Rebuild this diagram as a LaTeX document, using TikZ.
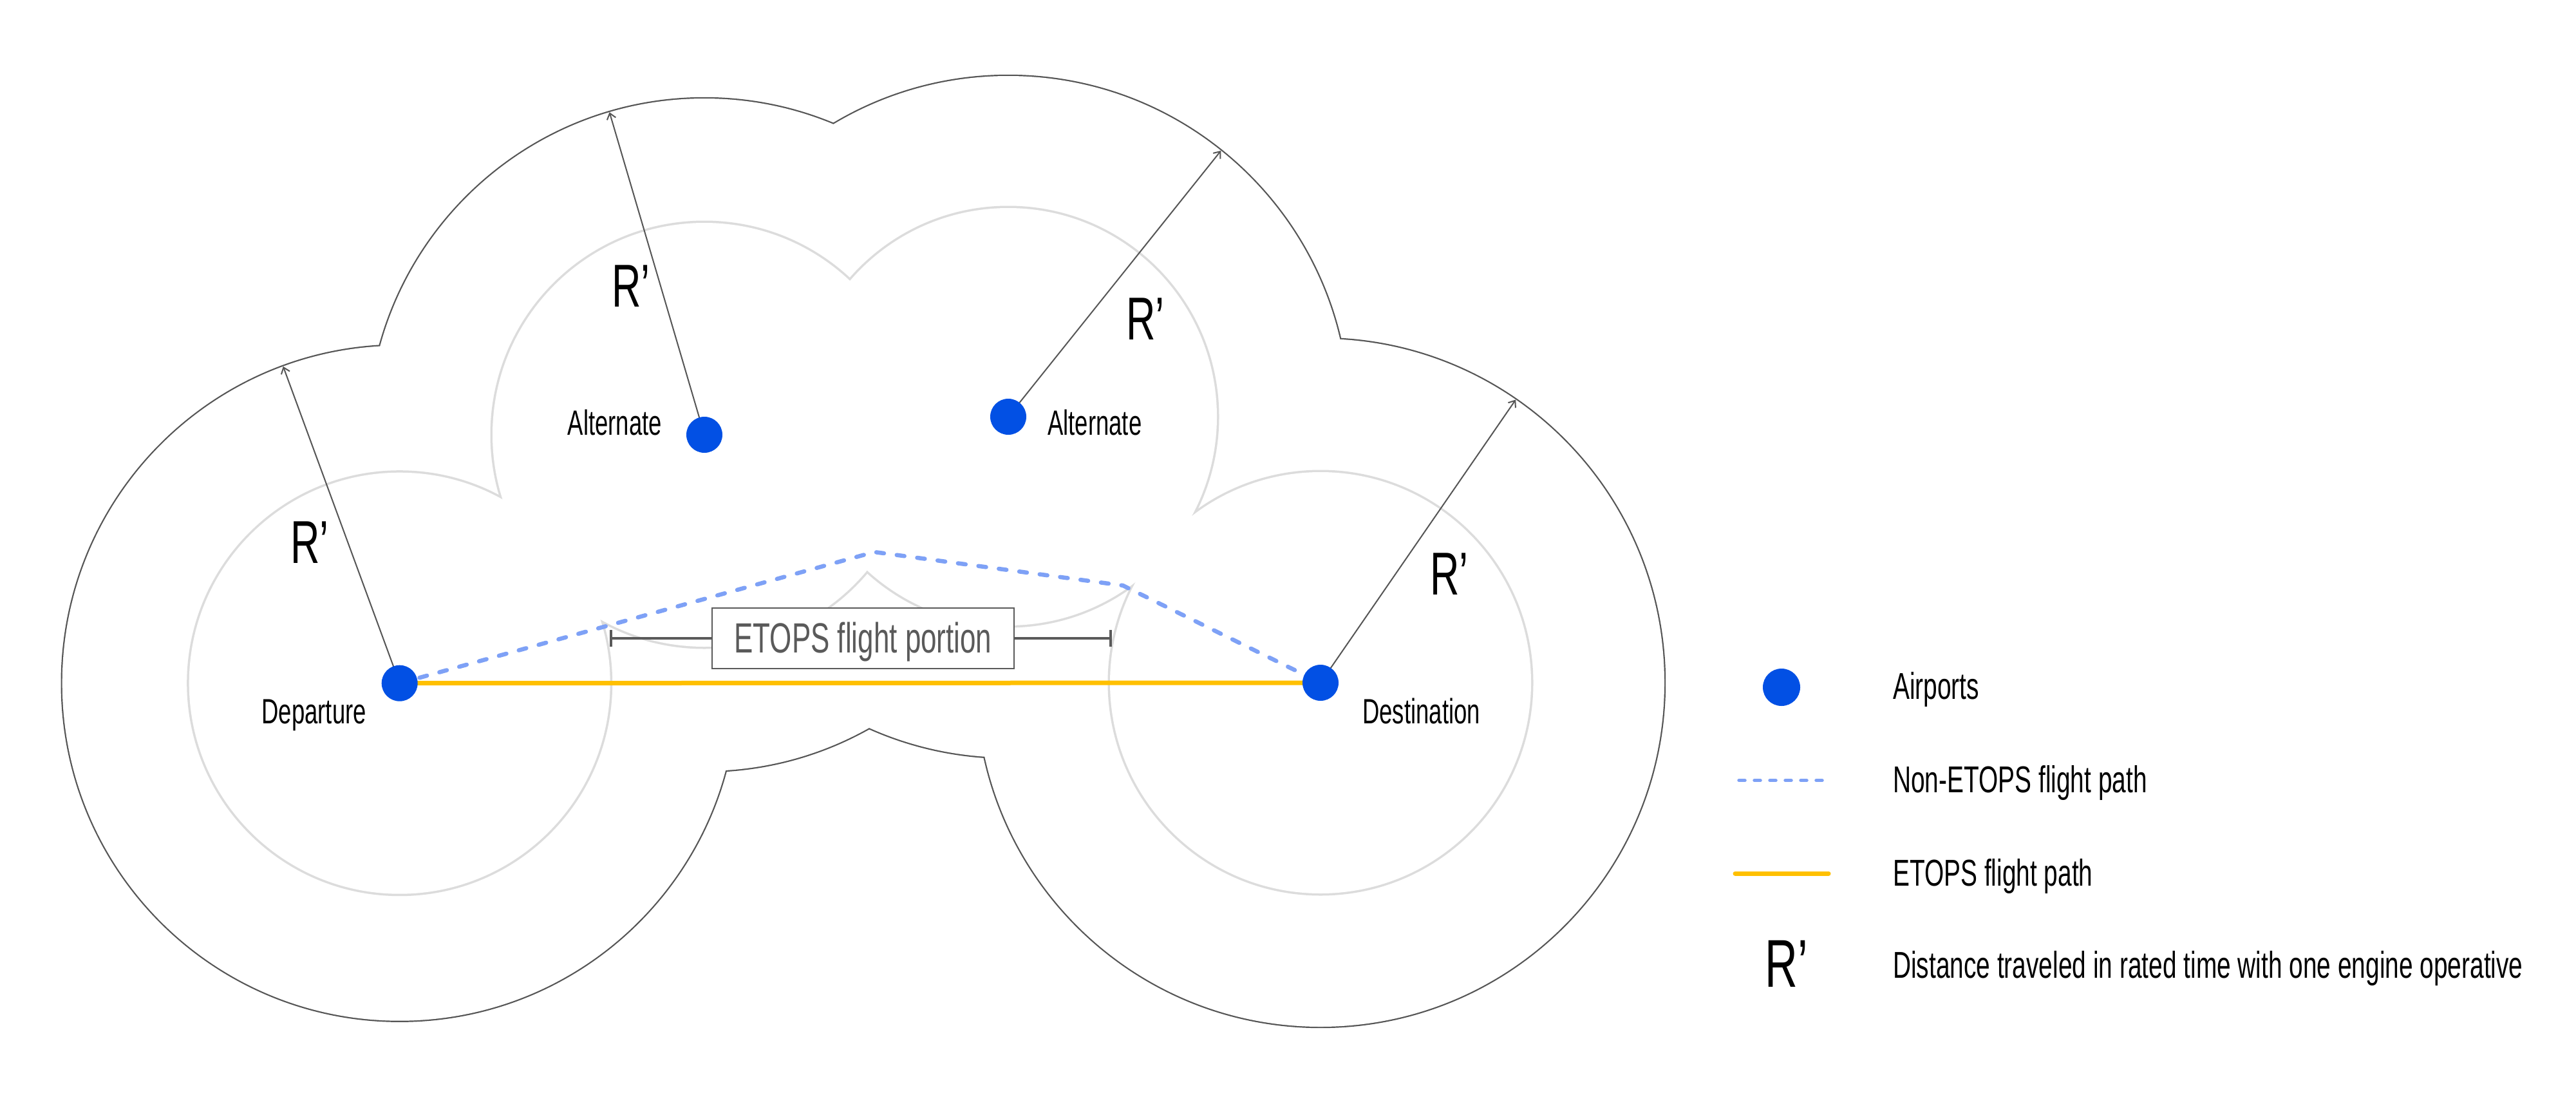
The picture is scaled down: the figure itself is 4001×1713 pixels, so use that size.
\documentclass[tikz,border=0pt]{standalone}
\usepackage{fontspec}
\setmainfont{Liberation Sans}[FakeStretch=0.67]
\usetikzlibrary{arrows.meta,calc}
\definecolor{apblue}{HTML}{0250E4}
\definecolor{dashblue}{HTML}{7EA1F6}
\definecolor{etopsyellow}{HTML}{FFC000}
\definecolor{outerline}{HTML}{555555}
\definecolor{innerline}{HTML}{DCDCDC}
\definecolor{boxgrey}{HTML}{5A5A5A}
\tikzset{
  airport/.style={circle, fill=apblue, draw=none, minimum size=56pt, inner sep=0pt},
  legairport/.style={circle, fill=apblue, draw=none, minimum size=58pt, inner sep=0pt},
  rline/.style={draw=outerline, line width=2pt, -{Straight Barb[length=9pt,width=14pt]}},
  nonetops/.style={draw=dashblue, line width=6.5pt, line cap=round, dash pattern=on 12pt off 20pt},
  etopsline/.style={draw=etopsyellow, line width=7pt, line cap=round},
  dimline/.style={draw=boxgrey, line width=4pt, {Bar[width=26pt]}-{Bar[width=26pt]}},
  portionbox/.style={draw=boxgrey, fill=white, line width=2.5pt, minimum width=469pt, minimum height=94pt,
    inner sep=0pt, text height=44pt, text depth=0pt, text=boxgrey, font=\fontsize{65.6}{70}\selectfont},
  lbl/.style={inner sep=0pt, font=\fontsize{54.5}{60}\selectfont},
  leglbl/.style={inner sep=0pt, anchor=base west, font=\fontsize{58}{64}\selectfont},
  rlbl/.style={inner sep=0pt, anchor=base west, font=\fontsize{94}{100}\selectfont},
}
\begin{document}
\begin{tikzpicture}[x=1pt,y=-1pt]
\useasboundingbox (0,0) rectangle (4001,1713);
\fill[white] (0,0) rectangle (4001,1713);

% centres
\coordinate (dep)  at (620.7,1060.7);
\coordinate (alta) at (1094,675);
\coordinate (altb) at (1566,647);
\coordinate (dst)  at (2051,1060);

% outer union boundary
\foreach \c/\r in {dep/524,alta/522,altb/529,dst/534}
  \draw[outerline, line width=4.4pt] (\c) circle[radius=\r pt];
\foreach \c/\r in {dep/524,alta/522,altb/529,dst/534}
  \fill[white] (\c) circle[radius=\r pt];
% inner union boundary
\foreach \c/\r in {dep/327,alta/329,altb/324,dst/327}
  \draw[innerline, line width=7pt] (\c) circle[radius=\r pt];
\foreach \c/\r in {dep/327,alta/329,altb/324,dst/327}
  \fill[white] (\c) circle[radius=\r pt];

% radius arrows
\coordinate (deptip)  at (439.8,568.9);
\coordinate (altatip) at (946.6,174.2);
\coordinate (altbtip) at (1896.4,233.9);
\coordinate (dsttip)  at (2354.2,620.5);
\draw[rline] (dep) -- (deptip);
\draw[rline] (alta) -- (altatip);
\draw[rline] (altb) -- (altbtip);
\draw[rline] (dst) -- (dsttip);

% ETOPS portion
\coordinate (dimL) at (947,991);
\coordinate (dimR) at (1727,991);
\draw[dimline] (dimL) -- (dimR);
\node[portionbox] (portion) at (1340.5,991) {ETOPS flight portion};

% flight paths
\coordinate (peak) at (1358,857);
\coordinate (kink) at (1744,909);
\draw[etopsline] (dep) -- (dst);
\draw[nonetops] (dep) -- (peak) -- (kink) -- (dst);

% airports
\node[airport] (depdot) at (dep) {};
\node[airport] (altadot) at (alta) {};
\node[airport] (altbdot) at (altb) {};
\node[airport] (dstdot) at (dst) {};

% labels
\node[lbl, anchor=base east] (deplbl) at (569,1123) {Departure};
\node[lbl, anchor=base west] (dstlbl) at (2116,1123) {Destination};
\node[lbl, anchor=base east] (altalbl) at (1028,675) {Alternate};
\node[lbl, anchor=base west] (altblbl) at (1627,675) {Alternate};

\node[rlbl] (rdep) at (451,874) {R’};
\node[rlbl] (ralta) at (950,476) {R’};
\node[rlbl] (raltb) at (1749,527) {R’};
\node[rlbl] (rdst) at (2221,923) {R’};

% legend
\node[legairport] (legdot) at (2767,1067) {};
\coordinate (legdashL) at (2701,1211.6);
\coordinate (legdashR) at (2841,1211.6);
\draw[nonetops, line width=5.5pt, dash pattern=on 9pt off 15pt] (legdashL) -- (legdashR);
\coordinate (legyelL) at (2695,1356);
\coordinate (legyelR) at (2840,1356);
\draw[etopsline] (legyelL) -- (legyelR);
\node[inner sep=0pt, anchor=base west, font=\fontsize{105}{110}\selectfont] (legr) at (2741,1532) {R’};

\node[leglbl] (legt1) at (2940,1085) {Airports};
\node[leglbl] (legt2) at (2940,1230) {Non-ETOPS flight path};
\node[leglbl] (legt3) at (2940,1375) {ETOPS flight path};
\node[leglbl] (legt4) at (2940,1518) {Distance traveled in rated time with one engine operative};
\end{tikzpicture}
\end{document}
